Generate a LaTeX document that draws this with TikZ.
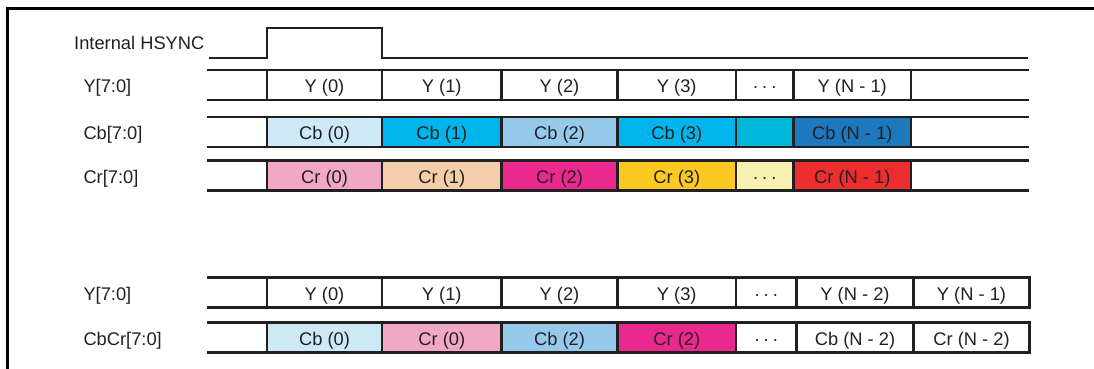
\documentclass[tikz,border=0pt]{standalone}
\usepackage{fontspec}
\setmainfont{Liberation Sans}
\definecolor{ink}{RGB}{35,31,32}
\definecolor{cbzero}{RGB}{204,233,245}
\definecolor{cbcyan}{RGB}{0,180,236}
\definecolor{cbtwo}{RGB}{150,202,236}
\definecolor{cbdots}{RGB}{0,183,218}
\definecolor{cblast}{RGB}{30,120,190}
\definecolor{crzero}{RGB}{240,168,196}
\definecolor{crone}{RGB}{244,206,168}
\definecolor{crtwo}{RGB}{234,40,142}
\definecolor{crthree}{RGB}{252,201,35}
\definecolor{crdots}{RGB}{247,240,176}
\definecolor{crlast}{RGB}{237,46,47}
\newcommand\dfs{\fontsize{18.3}{22}\selectfont}
\newcommand\mydots{·\hspace{3pt}·\hspace{3pt}·}
% name, x1, x2, centre y, fill, text
\newcommand\tcell[6]{%
  \pgfmathsetmacro\cw{#3-#2}%
  \node[cellbox, fill=#5, minimum width=\cw pt] (#1) at ({(#2+#3)/2},#4) {};
  \node[ctext] (#1t) at ([yshift=-7.5pt]#1.center) {#6};}
\begin{document}
\begin{tikzpicture}[x=1pt,y=-1pt,
  sig/.style={draw=ink, line width=2.2pt},
  cellbox/.style={draw=ink, line width=2.2pt, rectangle, inner sep=0pt, minimum height=30pt},
  lbl/.style={anchor=base west, text=ink, inner sep=0pt, font=\dfs},
  ctext/.style={anchor=base, text=ink, inner sep=0pt, font=\dfs}]
\useasboundingbox (0,0) rectangle (1094,368);
\clip (0,0) rectangle (1094,368);
% frame (open at right and bottom)
\draw[black, line width=3pt] (7.5,370) -- (7.5,8.8) -- (1100,8.8);
% labels
\node[lbl] (lhs) at (74,49) {Internal HSYNC};
\node[lbl] (ly) at (83.3,92.5) {Y[7:0]};
\node[lbl] (lcb) at (83.3,139.5) {Cb[7:0]};
\node[lbl] (lcr) at (83.3,183) {Cr[7:0]};
\node[lbl] (ly2) at (83.3,300) {Y[7:0]};
\node[lbl] (lcbcr) at (83.3,345) {CbCr[7:0]};
% HSYNC
\draw[sig] (209,58.3) -- (267,58.3) -- (267,28.3) -- (382,28.3) -- (382,58.3) -- (1028,58.3);
% row lines (upper rows open at right)
\foreach \t in {70,117,160.5}{
  \draw[sig] (207,\t) -- (1029,\t);
  \draw[sig] (207,\t+30) -- (1029,\t+30);
}
\foreach \t in {277.5,322.5}{
  \draw[sig] (207,\t) -- (267,\t);
  \draw[sig] (207,\t+30) -- (267,\t+30);
}
% Y row
\tcell{ya}{267}{382}{85}{white}{Y (0)}
\tcell{yb}{382}{501.5}{85}{white}{Y (1)}
\tcell{yc}{501.5}{617.5}{85}{white}{Y (2)}
\tcell{yd}{617.5}{736}{85}{white}{Y (3)}
\tcell{ye}{736}{793.5}{85}{white}{\mydots}
\tcell{yf}{793.5}{911}{85}{white}{Y (N - 1)}
% Cb row
\tcell{cba}{267}{382}{132}{cbzero}{Cb (0)}
\tcell{cbb}{382}{501.5}{132}{cbcyan}{Cb (1)}
\tcell{cbc}{501.5}{617.5}{132}{cbtwo}{Cb (2)}
\tcell{cbd}{617.5}{736}{132}{cbcyan}{Cb (3)}
\tcell{cbe}{736}{793.5}{132}{cbdots}{}
\tcell{cbf}{793.5}{911}{132}{cblast}{Cb (N - 1)}
% Cr row
\tcell{cra}{267}{382}{175.5}{crzero}{Cr (0)}
\tcell{crb}{382}{501.5}{175.5}{crone}{Cr (1)}
\tcell{crc}{501.5}{617.5}{175.5}{crtwo}{Cr (2)}
\tcell{crd}{617.5}{736}{175.5}{crthree}{Cr (3)}
\tcell{cre}{736}{793.5}{175.5}{crdots}{\mydots}
\tcell{crf}{793.5}{911}{175.5}{crlast}{Cr (N - 1)}
% lower Y row
\tcell{ma}{267}{382}{292.5}{white}{Y (0)}
\tcell{mb}{382}{501.5}{292.5}{white}{Y (1)}
\tcell{mc}{501.5}{617.5}{292.5}{white}{Y (2)}
\tcell{md}{617.5}{736}{292.5}{white}{Y (3)}
\tcell{me}{736}{796.5}{292.5}{white}{\mydots}
\tcell{mf}{796.5}{913.5}{292.5}{white}{Y (N - 2)}
\tcell{mg}{913.5}{1029.5}{292.5}{white}{Y (N - 1)}
% CbCr row
\tcell{na}{267}{382}{337.5}{cbzero}{Cb (0)}
\tcell{nb}{382}{501.5}{337.5}{crzero}{Cr (0)}
\tcell{nc}{501.5}{617.5}{337.5}{cbtwo}{Cb (2)}
\tcell{nd}{617.5}{736}{337.5}{crtwo}{Cr (2)}
\tcell{ne}{736}{796.5}{337.5}{white}{\mydots}
\tcell{nf}{796.5}{913.5}{337.5}{white}{Cb (N - 2)}
\tcell{ng}{913.5}{1029.5}{337.5}{white}{Cr (N - 2)}
\end{tikzpicture}
\end{document}
